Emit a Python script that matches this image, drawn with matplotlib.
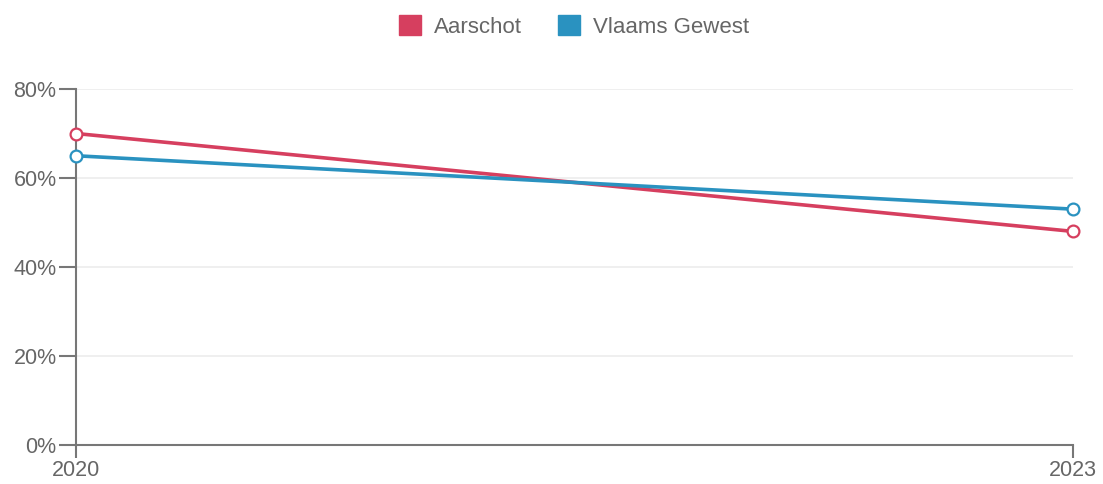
import matplotlib.pyplot as plt
from matplotlib.patches import Patch
from matplotlib.ticker import FuncFormatter

plt.rcParams['font.family'] = ['Liberation Sans', 'DejaVu Sans']

years = [2020, 2023]
aarschot = [70, 48]
vlaams = [65, 53]
series_names = ["Aarschot", "Vlaams Gewest"]
colors = ["#d63f5f", "#2a92c0"]
grey = "#666666"

fig = plt.figure(figsize=(11.03, 4.84), dpi=100)
ax = fig.add_axes([76 / 1103, 39 / 484, 997 / 1103, 356 / 484])

for vals, col in zip([aarschot, vlaams], colors):
    ax.plot(years, vals, color=col, lw=2.6, marker="o", ms=8.5,
            mfc="white", mec=col, mew=1.6, zorder=3, clip_on=False)

ax.set_xlim(2020, 2023)
ax.set_ylim(0, 80)
ax.set_xticks(years)
ax.set_yticks([0, 20, 40, 60, 80])
ax.yaxis.set_major_formatter(FuncFormatter(lambda v, p: f"{v:.0f}%"))
ax.grid(axis="y", color="#ececec", lw=1.2)
ax.set_axisbelow(True)

for s in ["top", "right"]:
    ax.spines[s].set_visible(False)
for s in ["left", "bottom"]:
    ax.spines[s].set_color("#777777")
    ax.spines[s].set_linewidth(1.5)
ax.tick_params(colors="#777777", width=1.5, labelsize=15.5,
               labelcolor=grey, pad=2)
ax.tick_params(axis="y", length=12)
ax.tick_params(axis="x", length=9)

handles = [Patch(color=c, label=n) for c, n in zip(colors, series_names)]
fig.legend(handles=handles, loc="center", bbox_to_anchor=(0.5205, 0.945),
           ncol=2, frameon=False, fontsize=16, labelcolor=grey,
           handlelength=1.0, handleheight=1.0, columnspacing=1.6,
           handletextpad=0.6)

fig.savefig("out.png", dpi=100)
